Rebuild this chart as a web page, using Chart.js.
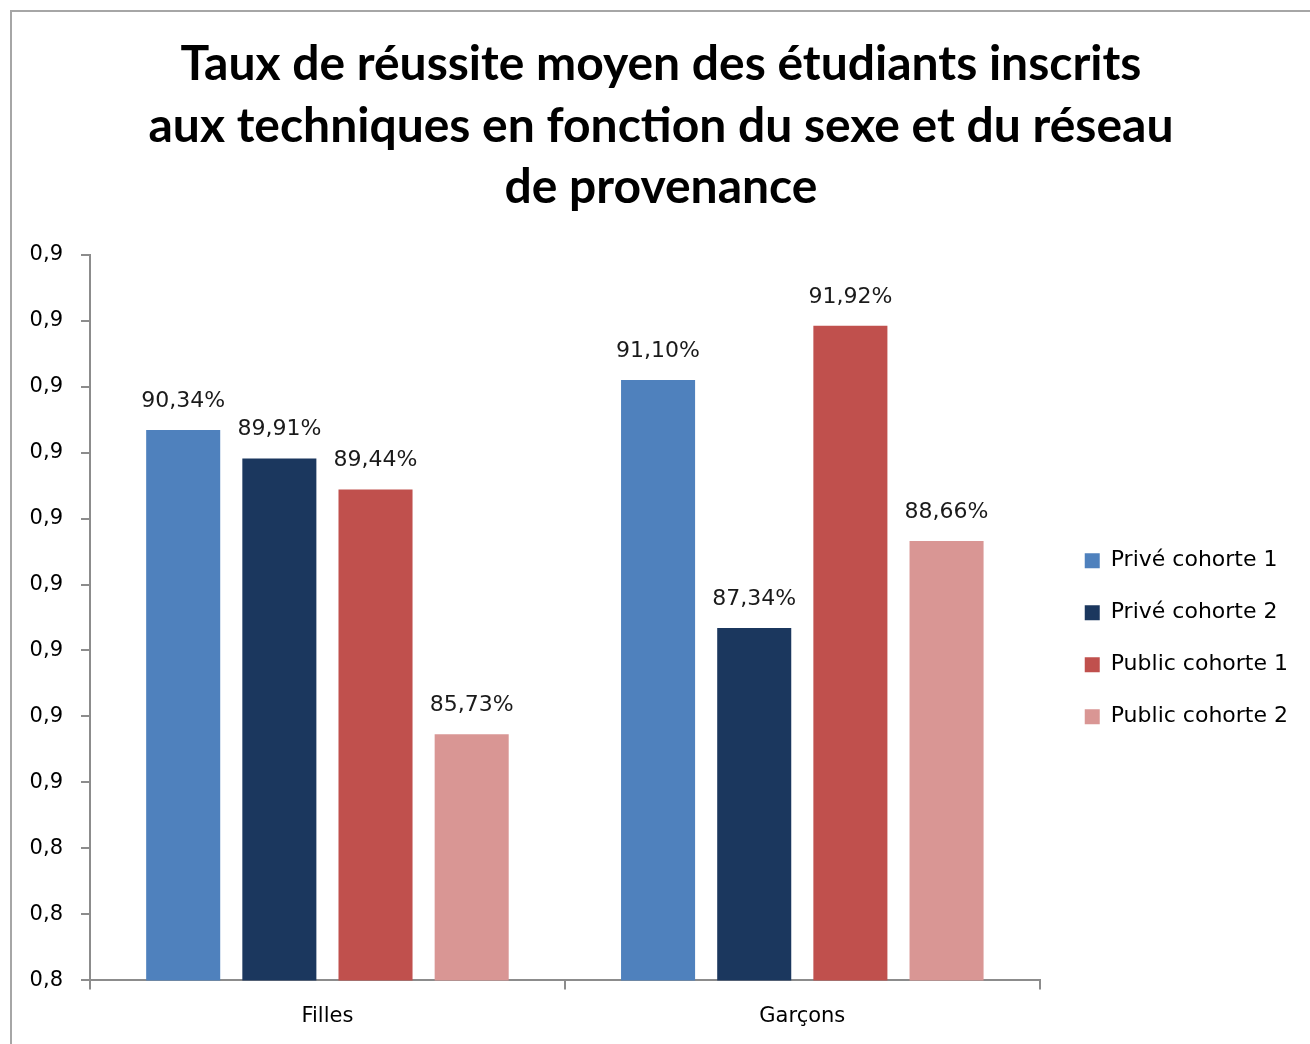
<!DOCTYPE html>
<html>
<head>
<meta charset="utf-8">
<script src="https://cdn.jsdelivr.net/npm/chart.js@4/dist/chart.umd.min.js"></script>
<style>
  html, body { margin: 0; padding: 0; background: #fff; }
  #frame { position: absolute; left: 10px; top: 10px; width: 1300px; height: 1034px;
           border-top: 2px solid #a6a6a6; border-left: 2px solid #a6a6a6; box-sizing: border-box; }
  #wrap { position: absolute; left: 0; top: 0; width: 1310px; height: 1044px; }
</style>
</head>
<body>
<div id="frame"></div>
<div id="wrap"><canvas id="BarChart"></canvas></div>
<script>
const categories = ['Filles', 'Garçons'];
const priveCohorte1 = [0.9034, 0.9110];
const priveCohorte2 = [0.8991, 0.8734];
const publicCohorte1 = [0.8944, 0.9192];
const publicCohorte2 = [0.8573, 0.8866];
const yTickLabels = ['0,8', '0,8', '0,8', '0,9', '0,9', '0,9', '0,9', '0,9', '0,9', '0,9', '0,9', '0,9'];

const tickFont = { family: 'DejaVu Sans', size: 21 };

const barData = {
  labels: categories,
  datasets: [
    { label: 'Privé cohorte 1', data: priveCohorte1, backgroundColor: '#4f81bd' },
    { label: 'Privé cohorte 2', data: priveCohorte2, backgroundColor: '#1b375e' },
    { label: 'Public cohorte 1', data: publicCohorte1, backgroundColor: '#c0504d' },
    { label: 'Public cohorte 2', data: publicCohorte2, backgroundColor: '#d99694' }
  ]
};

// etiquettes au-dessus des barres
const valueLabels = {
  id: 'valueLabels',
  afterDatasetsDraw(chart) {
    const ctx = chart.ctx;
    ctx.save();
    ctx.font = '22px "DejaVu Sans"';
    ctx.fillStyle = '#1a1a1a';
    ctx.textAlign = 'center';
    ctx.textBaseline = 'middle';
    chart.data.datasets.forEach((ds, i) => {
      chart.getDatasetMeta(i).data.forEach((bar, j) => {
        const txt = (ds.data[j] * 100).toFixed(2).replace('.', ',') + '%';
        ctx.fillText(txt, bar.x, bar.y - 29);
      });
    });
    ctx.restore();
  }
};

const ctx = document.getElementById('BarChart');
const myChart = new Chart(ctx, {
  type: 'bar',
  data: barData,
  plugins: [valueLabels],
  options: {
    responsive: true,
    maintainAspectRatio: false,
    animation: false,
    layout: { padding: { left: 24, right: 12, top: 24, bottom: 0 } },
    datasets: { bar: { categoryPercentage: 0.81, barPercentage: 0.77 } },
    plugins: {
      title: {
        display: true,
        text: ['Taux de réussite moyen des étudiants inscrits',
               'aux techniques en fonction du sexe et du réseau',
               'de provenance'],
        color: '#000',
        font: { family: 'Lato', weight: 'bold', size: 48, lineHeight: 1.282 },
        padding: { top: 10, bottom: 36 }
      },
      legend: {
        position: 'right',
        fullSize: false,
        maxWidth: 320,
        title: { display: true, text: ' ', font: { size: 12 }, padding: 14 },
        labels: {
          color: '#000',
          font: { family: 'DejaVu Sans', size: 22 },
          boxWidth: 15,
          boxHeight: 15,
          padding: 30
        }
      },
      tooltip: { enabled: false }
    },
    scales: {
      x: {
        grid: { display: true, drawOnChartArea: false, offset: true, tickLength: 9, color: '#8c8c8c', lineWidth: 2 },
        border: { color: '#8c8c8c', width: 2 },
        ticks: { color: '#000', font: { family: 'DejaVu Sans', size: 21, lineHeight: 0.6 }, padding: 21 }
      },
      y: {
        min: 0.82,
        max: 0.93,
        grid: { display: true, drawOnChartArea: false, tickLength: 9, color: '#8c8c8c', lineWidth: 2 },
        border: { color: '#8c8c8c', width: 2 },
        ticks: {
          stepSize: 0.01,
          color: '#000',
          font: tickFont,
          padding: 18,
          callback: (v, i) => yTickLabels[i]
        },
        afterFit(s) { s.width = 66; }
      },
      gap: {
        position: 'right',
        display: true,
        grid: { display: false },
        border: { display: false },
        ticks: { display: false },
        afterFit(s) { s.width = 15; }
      }
    }
  }
});
</script>
</body>
</html>
